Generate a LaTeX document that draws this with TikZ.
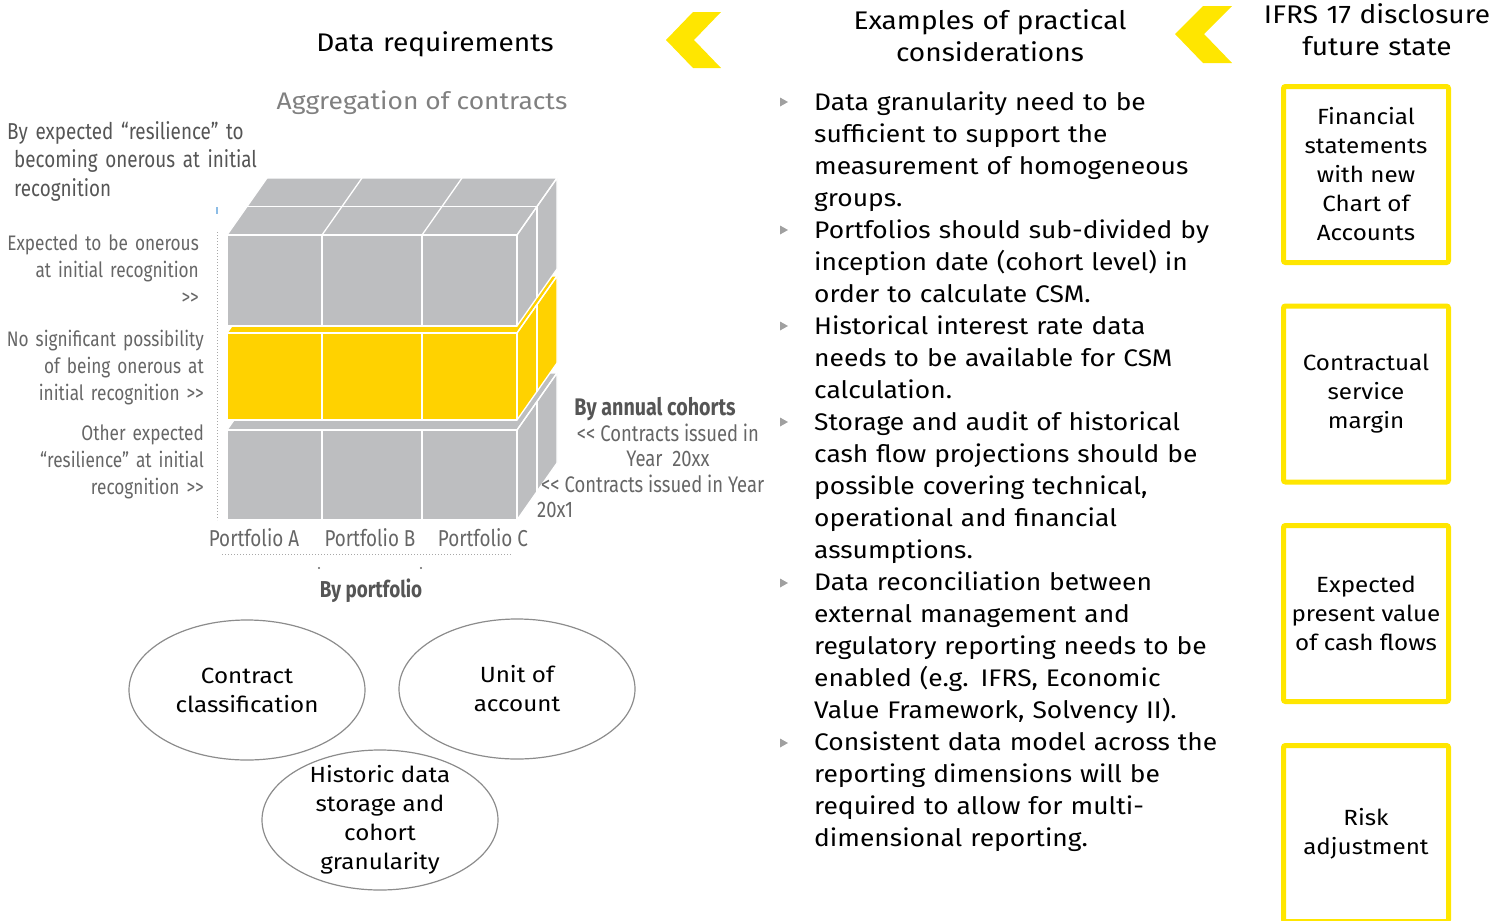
\documentclass[tikz,border=0pt]{standalone}
\usepackage{fontspec}
\setmainfont{Fira Sans}[FakeStretch=1.1]
\newfontfamily\condfont[FakeStretch=0.82]{Fira Sans}
\usetikzlibrary{shapes.geometric}
\definecolor{eyyellow}{HTML}{FFE600}
\definecolor{cubeyellow}{HTML}{FFD200}
\definecolor{cubegrey}{HTML}{BDBEC0}
\definecolor{labelgrey}{HTML}{666666}
\definecolor{darklabel}{HTML}{555555}
\definecolor{agggrey}{HTML}{808080}
\definecolor{bulletgrey}{HTML}{A0A0A0}
\definecolor{dotgrey}{HTML}{A8A8A8}
\definecolor{elgrey}{HTML}{8C8C8C}
\definecolor{ticblue}{HTML}{8DBDE6}
\begin{document}
\begin{tikzpicture}[x=1pt,y=-1pt,
  headtxt/.style={font=\fontsize{25.5}{32}\selectfont, text=black, align=center, text width=380pt, anchor=base, inner sep=0pt},
  bodytxt/.style={font=\fontsize{24}{32}\selectfont, text=black, align=left, text width=480pt, anchor=base west, inner sep=0pt},
  boxnode/.style={draw=eyyellow, line width=5pt, rounded corners=2pt, fill=white, minimum width=165pt, minimum height=176pt, inner sep=0pt, align=center, font=\fontsize{22}{29}\selectfont, text=black},
  ellnode/.style={ellipse, draw=elgrey, line width=1.2pt, fill=white, minimum width=236pt, minimum height=140pt, inner sep=0pt, align=center, font=\fontsize{22}{29}\selectfont, text=black},
  greylbl/.style={font=\condfont\fontsize{21}{27}\selectfont, text=labelgrey, inner sep=0pt},
  greyright/.style={greylbl, align=right, text width=220pt, anchor=base east},
  cohlbl/.style={greylbl, font=\condfont\fontsize{22.5}{27}\selectfont},
  chevron/.style={fill=eyyellow},
  bullet/.style={fill=bulletgrey},
  cubeline/.style={white, line width=1.3pt, line join=round},
]
\useasboundingbox (0,0) rectangle (1508,921);

% ---------------- headings and chevrons
\node[headtxt] (hdata) at (435,51) {Data requirements};
\node[headtxt] (hexam) at (990,29) {Examples of practical\\considerations};
\node[headtxt] (hifrs) at (1377,23) {IFRS 17 disclosure\\future state};
\fill[chevron] (721,12) -- (693,12) -- (666,40) -- (693,68) -- (721,68) -- (694,40) -- cycle;
\fill[chevron] (1232,6) -- (1203,6) -- (1175,34) -- (1203,63) -- (1232,63) -- (1204,34) -- cycle;

% ---------------- aggregation section
\node[font=\fontsize{24}{30}\selectfont, text=agggrey, anchor=base, inner sep=0pt] (agg) at (422,109) {Aggregation of contracts};

\node[greylbl, font=\condfont\fontsize{23}{28.5}\selectfont, text=darklabel, align=left, text width=280pt, anchor=base west] (byres) at (7,139)
  {By expected “resilience” to\\\hspace*{7pt}becoming onerous at initial\\\hspace*{7pt}recognition};
\node[greyright] (lab1) at (199,250) {Expected to be onerous\\at initial recognition\\>{}>};
\node[greyright] (lab2) at (204,346) {No significant possibility\\of being onerous at\\initial recognition >{}>};
\node[greyright] (lab3) at (204,440) {Other expected\\“resilience” at initial\\recognition >{}>};

% dotted guide lines
\draw[ticblue, line width=1.2pt] (217,207) -- (217,214);
\draw[dotgrey, line width=1pt, dotted] (217,232) -- (217,520);
\draw[dotgrey, line width=1pt, dotted] (222,554) -- (512,554);
\fill[labelgrey] (319,568) circle (1.2);
\fill[labelgrey] (421,568) circle (1.2);

% ---------------- cube (three layers, depth offset (40,-57))
% bottom layer
\fill[cubegrey] (227,430) -- (267,373) -- (557,373) -- (517,430) -- cycle;
\fill[cubegrey] (517,430) -- (557,373) -- (557,463) -- (517,520) -- cycle;
\fill[cubegrey] (227,430) rectangle (517,520);
\draw[cubeline] (227,430) -- (267,373) -- (557,373) -- (517,430) -- cycle;
\draw[cubeline] (517,430) -- (557,373) -- (557,463) -- (517,520);
\draw[cubeline] (227,430) rectangle (517,520);
\draw[cubeline] (322,430) -- (322,520) (422,430) -- (422,520);
\draw[cubeline] (537,401.5) -- (537,491.5);
% middle (yellow) layer
\fill[cubeyellow] (227,333) -- (267,276) -- (557,276) -- (517,333) -- cycle;
\fill[cubeyellow] (517,333) -- (557,276) -- (557,363) -- (517,420) -- cycle;
\fill[cubeyellow] (227,333) rectangle (517,420);
\draw[cubeline] (227,333) -- (267,276) -- (557,276) -- (517,333) -- cycle;
\draw[cubeline] (517,333) -- (557,276) -- (557,363) -- (517,420);
\draw[cubeline] (227,333) rectangle (517,420);
\draw[cubeline] (322,333) -- (322,420) (422,333) -- (422,420);
\draw[cubeline] (537,304.5) -- (537,391.5);
% top layer
\fill[cubegrey] (227,235) -- (267,178) -- (557,178) -- (517,235) -- cycle;
\fill[cubegrey] (517,235) -- (557,178) -- (557,269) -- (517,326) -- cycle;
\fill[cubegrey] (227,235) rectangle (517,326);
\draw[cubeline] (227,235) -- (267,178) -- (557,178) -- (517,235) -- cycle;
\draw[cubeline] (517,235) -- (557,178) -- (557,269) -- (517,326);
\draw[cubeline] (227,235) rectangle (517,326);
\draw[cubeline] (322,235) -- (322,326) (422,235) -- (422,326);
\draw[cubeline] (322,235) -- (362,178) (422,235) -- (462,178);
\draw[cubeline] (247,206.5) -- (537,206.5) -- (537,297.5);

% portfolio labels
\node[greylbl, font=\condfont\fontsize{23}{27}\selectfont, anchor=base] (pa) at (254,546) {Portfolio A};
\node[greylbl, font=\condfont\fontsize{23}{27}\selectfont, anchor=base] (pb) at (370,546) {Portfolio B};
\node[greylbl, font=\condfont\fontsize{23}{27}\selectfont, anchor=base] (pc) at (483,546) {Portfolio C};
\node[greylbl, anchor=base, text=darklabel, font=\condfont\fontsize{23}{27}\selectfont\bfseries] (bypf) at (371,597) {By portfolio};

% cohort labels
\node[greylbl, anchor=base, text=darklabel, font=\condfont\fontsize{24}{27}\selectfont\bfseries] (bycoh) at (655,415) {By annual cohorts};
\node[cohlbl, anchor=base] (coh1) at (668,441) {<{}< Contracts issued in};
\node[cohlbl, anchor=base] (coh2) at (668,466) {Year\ \ 20xx};
\node[cohlbl, anchor=base west] (coh3) at (541,492) {<{}< Contracts issued in Year};
\node[cohlbl, anchor=base west] (coh4) at (537,517) {20x1};

% ---------------- ellipses
\node[ellnode] (e1) at (247,690) {Contract\\classification};
\node[ellnode] (e2) at (517,689) {Unit of\\account};
\node[ellnode, inner sep=-6pt] (e3) at (380,820) {Historic data\\storage and\\cohort\\granularity};

% ---------------- bullets
\foreach \yy in {102,230,326,422,583,743} {
  \fill[bullet] (780,\yy-4.5) -- (788,\yy) -- (780,\yy+4.5) -- cycle;
}
\node[bodytxt] (b1) at (814,110) {Data granularity need to be\\sufficient to support the\\measurement of homogeneous\\groups.};
\node[bodytxt] (b2) at (814,238) {Portfolios should sub-divided by\\inception date (cohort level) in\\order to calculate CSM.};
\node[bodytxt] (b3) at (814,334) {Historical interest rate data\\needs to be available for CSM\\calculation.};
\node[bodytxt] (b4) at (814,430) {Storage and audit of historical\\cash flow projections should be\\possible covering technical,\\operational and financial\\assumptions.};
\node[bodytxt] (b5) at (814,590) {Data reconciliation between\\external management and\\regulatory reporting needs to be\\enabled (e.g. IFRS, Economic\\Value Framework, Solvency II).};
\node[bodytxt] (b6) at (814,750) {Consistent data model across the\\reporting dimensions will be\\required to allow for multi-\\dimensional reporting.};

% ---------------- right boxes
\node[boxnode] (r1) at (1366,174.5) {Financial\\statements\\with new\\Chart of\\Accounts};
\node[boxnode] (r2) at (1366,394) {Contractual\\service\\margin};
\node[boxnode] (r3) at (1366,613.5) {Expected\\present value\\of cash flows};
\node[boxnode] (r4) at (1366,833.5) {Risk\\adjustment};
\end{tikzpicture}
\end{document}
